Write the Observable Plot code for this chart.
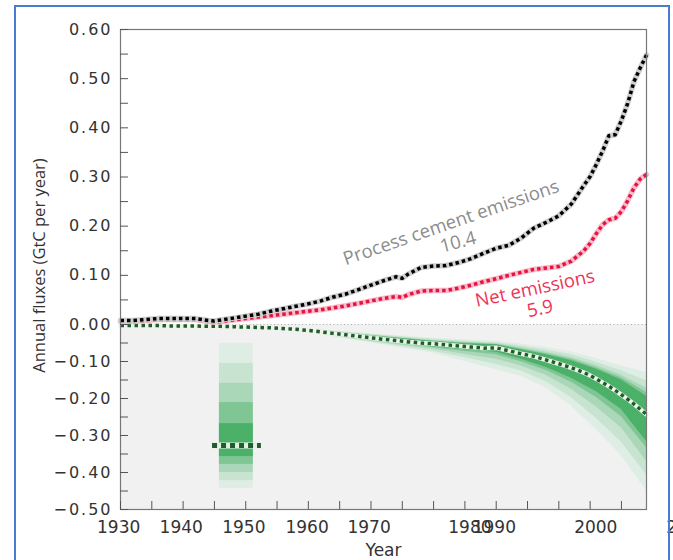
<!DOCTYPE html>
<html><head><meta charset="utf-8">
<script src="https://cdn.jsdelivr.net/npm/d3@7"></script>
<script src="https://cdn.jsdelivr.net/npm/@observablehq/plot@0.6"></script>
<style>
body{margin:0;background:#fff;overflow:hidden}
#wrap{position:relative;width:673px;height:560px}
#border{position:absolute;left:14px;top:5px;width:652px;height:700px;border:2px solid #4a7bd0;pointer-events:none}
</style></head><body><div id="wrap"><div id="chart"></div><div id="border"></div></div>
<script>
// ---- data ----
const lineYears = [1930,1932,1934,1936,1938,1940,1942,1944,1945,1946,1948,1950,1952,1954,1956,1958,1960,1962,1964,1966,1968,1970,1972,1974,1975,1976,1978,1980,1982,1984,1986,1988,1990,1992,1994,1996,1998,2000,2002,2004,2005,2006,2007,2008,2009,2010,2011,2012,2013,2014];
const cementEmissions = [0.008,0.008,0.010,0.012,0.012,0.012,0.012,0.008,0.007,0.009,0.013,0.017,0.021,0.027,0.032,0.037,0.042,0.048,0.056,0.062,0.071,0.080,0.089,0.097,0.094,0.103,0.116,0.119,0.120,0.126,0.134,0.145,0.155,0.161,0.176,0.196,0.208,0.221,0.245,0.283,0.301,0.326,0.353,0.384,0.386,0.415,0.450,0.494,0.522,0.548];
const netEmissions = [0.007,0.006,0.008,0.010,0.010,0.010,0.010,0.006,0.005,0.006,0.009,0.012,0.015,0.018,0.021,0.024,0.027,0.030,0.034,0.038,0.043,0.048,0.053,0.057,0.055,0.061,0.068,0.069,0.069,0.074,0.080,0.087,0.093,0.100,0.106,0.112,0.115,0.118,0.129,0.150,0.165,0.185,0.203,0.213,0.216,0.230,0.252,0.278,0.296,0.305];
const carbonationUptake = [-0.003,-0.003,-0.003,-0.003,-0.004,-0.004,-0.004,-0.005,-0.005,-0.005,-0.006,-0.007,-0.008,-0.009,-0.011,-0.013,-0.016,-0.020,-0.024,-0.028,-0.032,-0.036,-0.040,-0.043,-0.045,-0.047,-0.050,-0.052,-0.055,-0.058,-0.061,-0.064,-0.063,-0.071,-0.079,-0.086,-0.096,-0.106,-0.117,-0.130,-0.138,-0.147,-0.157,-0.167,-0.178,-0.190,-0.202,-0.215,-0.229,-0.243];

// uncertainty bands of the uptake (outer -> inner), upper and lower edges
const bandYears = [1950,1960,1970,1980,1985,1990,1994,1998,2002,2006,2010,2014];
const bandUpper1 = [-0.006,-0.012,-0.025,-0.037,-0.041,-0.045,-0.053,-0.062,-0.074,-0.092,-0.112,-0.130];
const bandUpper2 = [-0.006,-0.013,-0.027,-0.040,-0.045,-0.049,-0.058,-0.069,-0.082,-0.102,-0.125,-0.152];
const bandUpper3 = [-0.007,-0.013,-0.029,-0.043,-0.048,-0.052,-0.063,-0.075,-0.090,-0.111,-0.137,-0.172];
const bandUpper4 = [-0.007,-0.014,-0.030,-0.045,-0.050,-0.054,-0.066,-0.079,-0.094,-0.117,-0.144,-0.184];
const bandUpper5 = [-0.007,-0.014,-0.031,-0.046,-0.052,-0.055,-0.068,-0.082,-0.098,-0.121,-0.150,-0.194];
const bandLower5 = [-0.008,-0.018,-0.041,-0.060,-0.068,-0.075,-0.094,-0.116,-0.145,-0.182,-0.230,-0.316];
const bandLower4 = [-0.008,-0.019,-0.042,-0.063,-0.073,-0.082,-0.101,-0.124,-0.156,-0.197,-0.249,-0.333];
const bandLower3 = [-0.008,-0.020,-0.045,-0.067,-0.081,-0.094,-0.112,-0.138,-0.175,-0.223,-0.280,-0.370];
const bandLower2 = [-0.009,-0.021,-0.047,-0.073,-0.090,-0.108,-0.126,-0.155,-0.198,-0.254,-0.318,-0.406];
const bandLower1 = [-0.009,-0.022,-0.050,-0.078,-0.100,-0.122,-0.140,-0.172,-0.220,-0.285,-0.355,-0.450];

// probability key (legend swatch)
const keyUpper = [-0.051,-0.105,-0.159,-0.211,-0.268];
const keyLower = [-0.443,-0.422,-0.400,-0.378,-0.357];
const keyMedian = -0.327;

// axis ticks & labels
const yMajorTicks = [-0.5,-0.4,-0.3,-0.2,-0.1,0,0.1,0.2,0.3,0.4,0.5,0.6];
const yMinorTicks = [-0.5,-0.45,-0.4,-0.35,-0.3,-0.25,-0.2,-0.15,-0.1,-0.05,0,0.05,0.1,0.15,0.2,0.25,0.3,0.35,0.4,0.45,0.5,0.55,0.6];
const xTicks = [1930,1935,1940,1945,1950,1955,1960,1965,1970,1975,1980,1985,1990,1995,2000,2005,2010];
const xTickLabels = ["1930","1940","1950","1960","1970","1980","1990","2000","2010"];
const xTickLabelAt = [1929.7,1939.7,1949.7,1959.8,1969.7,1985.8,1989.7,2005.9,2020.6];

const labelCement = ["Process cement emissions", "10.4"];
const labelNet = ["Net emissions", "5.9"];

// ---- tables ----
const series = lineYears.map((year, i) => ({year, cement: cementEmissions[i], net: netEmissions[i], uptake: carbonationUptake[i]}));
const uppers = [bandUpper1, bandUpper2, bandUpper3, bandUpper4, bandUpper5];
const lowers = [bandLower1, bandLower2, bandLower3, bandLower4, bandLower5];
const bands = bandYears.map((year, i) => ({year, up: uppers.map(a => a[i]), lo: lowers.map(a => a[i])}));
const shades = ["#deeee4", "#c8e4d1", "#a9d7b8", "#7fc694", "#4bb068"];
const keyRects = keyUpper.map((u, k) => ({k, y1: u, y2: keyLower[k]}));
const xLabelData = xTickLabels.map((t, i) => ({t, x: xTickLabelAt[i]}));

const sans = "DejaVu Sans";
const dotted = {strokeLinecap: "butt", strokeLinejoin: "round"};
const chart = Plot.plot({
  width: 673, height: 560,
  marginLeft: 120, marginRight: 27, marginTop: 29, marginBottom: 51,
  x: {type: "linear", domain: [1930, 2014], axis: null},
  y: {type: "linear", domain: [-0.5, 0, 0.6], range: [509, 324, 29], axis: null},
  style: {fontFamily: sans, background: "white", overflow: "visible"},
  marks: [
    Plot.rect([0], {x1: 1930, x2: 2014, y1: -0.5, y2: 0, fill: "#f1f1f1"}),
    Plot.ruleY([0], {stroke: "#aaa", strokeDasharray: "1,2.5", strokeWidth: 1}),
    ...shades.map((c, k) => Plot.areaY(bands, {x: "year", y1: d => d.up[k], y2: d => d.lo[k], fill: c})),
    ...shades.map((c, k) => Plot.rect(keyRects.filter(d => d.k === k), {x1: 1945.8, x2: 1951.2, y1: "y1", y2: "y2", fill: c})),
    Plot.ruleY([keyMedian], {x1: 1944.7, x2: 1952.5, stroke: "#e3f0e0", strokeWidth: 6}),
    Plot.ruleY([keyMedian], {x1: 1944.7, x2: 1952.5, stroke: "#1e5b2f", strokeWidth: 5, strokeDasharray: "5,4", strokeLinecap: "butt"}),
    // uptake
    Plot.line(series, {x: "year", y: "uptake", stroke: "#eef5e8", strokeWidth: 4.5}),
    Plot.line(series, {x: "year", y: "uptake", stroke: "#1e5b2f", strokeWidth: 3.5, strokeDasharray: "3.5,3.5", ...dotted}),
    // net
    Plot.line(series, {x: "year", y: "net", stroke: "#f6bccb", strokeWidth: 5.5}),
    Plot.line(series, {x: "year", y: "net", stroke: "#e8123f", strokeWidth: 3.5, strokeDasharray: "3.5,3", ...dotted}),
    // cement
    Plot.line(series, {x: "year", y: "cement", stroke: "#cfcfcf", strokeWidth: 5.5}),
    Plot.line(series, {x: "year", y: "cement", stroke: "#000", strokeWidth: 3.5, strokeDasharray: "3.5,3", ...dotted}),
    Plot.frame({stroke: "#777", strokeWidth: 1.2}),
    Plot.axisY(yMinorTicks, {anchor: "left", tickSize: 8, dx: 8, stroke: "#555", tickFormat: () => "", label: null}),
    Plot.axisX(xTicks, {anchor: "bottom", tickSize: 8, dy: -8, stroke: "#555", tickFormat: () => "", label: null}),
    Plot.axisY(yMajorTicks, {anchor: "left", tickSize: 0, tickPadding: 8, tickFormat: d3.format(".2f"), fontSize: 16, fill: "#333", label: null, ariaLabel: "ylabels"}),
    Plot.text(xLabelData, {x: "x", text: "t", frameAnchor: "bottom", dy: 18, lineAnchor: "middle", fontSize: 17, fill: "#333"}),
    Plot.text(["Year"], {x: 1972, frameAnchor: "bottom", dy: 41, lineAnchor: "middle", fontSize: 17, fill: "#333"}),
    Plot.text(["Annual fluxes (GtC per year)"], {y: 0.12, frameAnchor: "left", dx: -81, rotate: -90, textAnchor: "middle", lineAnchor: "middle", fontSize: 16.5, fontFamily: "Open Sans", fill: "#333"}),
    Plot.text([labelCement[0]], {x: 1982.8, y: 0.207, rotate: -19, fontSize: 18.5, fontFamily: "Open Sans", fill: "#8c8c8c"}),
    Plot.text([labelCement[1]], {x: 1983.9, y: 0.167, rotate: -15, fontSize: 18.5, fontFamily: "Open Sans", fill: "#8c8c8c"}),
    Plot.text([labelNet[0]], {x: 1996.2, y: 0.073, rotate: -12, fontSize: 18.5, fontFamily: "Open Sans", fill: "#ee3356"}),
    Plot.text([labelNet[1]], {x: 1997.0, y: 0.032, rotate: -12, fontSize: 18.5, fontFamily: "Open Sans", fill: "#ee3356"})
  ]
});
chart.querySelectorAll('g[aria-label="ylabels"] text, g[aria-label^="ylabels"] text').forEach(t => t.style.letterSpacing = "2px");
document.getElementById("chart").appendChild(chart);
</script></body></html>
